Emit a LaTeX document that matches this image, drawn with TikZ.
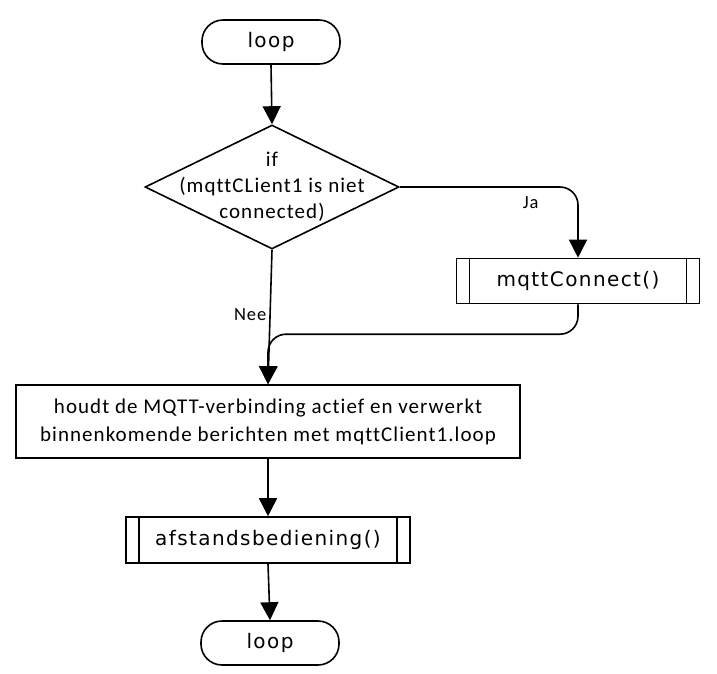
\documentclass[tikz,border=0pt]{standalone}
\usepackage{fontspec}
\setmainfont{Carlito}
\newfontfamily\dvfont{DejaVu Sans}[LetterSpace=7]
\newfontfamily\cbfont{Carlito}[LetterSpace=5,Ligatures={NoCommon}]
\usetikzlibrary{arrows.meta,shapes.geometric,calc}
\begin{document}
\begin{tikzpicture}[x=1pt,y=-1pt,
  ln/.style={line width=1.6pt},
  arr/.style={ln,-{Triangle[length=18pt,width=18pt]}},
  term/.style={draw,ln,rounded corners=21pt,minimum width=138pt,minimum height=44pt,inner sep=0pt,
    font=\dvfont\fontsize{20}{24}\selectfont},
  proc/.style={draw,ln,minimum height=45pt,inner sep=0pt,
    font=\dvfont\fontsize{20}{24}\selectfont,
    path picture={
      \draw[ln] ([xshift=13pt]path picture bounding box.north west) -- ([xshift=13pt]path picture bounding box.south west);
      \draw[ln] ([xshift=-13pt]path picture bounding box.north east) -- ([xshift=-13pt]path picture bounding box.south east);
    }},
  dia/.style={draw,ln,diamond,minimum width=254pt,minimum height=124pt,inner sep=0pt},
  txt/.style={align=center,inner sep=0pt,font=\cbfont\fontsize{21}{26}\selectfont},
  boxx/.style={draw,ln,minimum width=504pt,minimum height=73pt,align=center,inner sep=0pt,
    font=\cbfont\fontsize{21}{28}\selectfont},
  lbl/.style={inner sep=0pt,font=\cbfont\fontsize{18.5}{20}\selectfont}
]
\useasboundingbox (0,0) rectangle (717,673);

\node[term] (l1) at (271,42) {loop};
\node[dia] (d) at (272,187) {};
\node[txt] (dt) at (272,187) {if\\(mqttCLient1 is niet\\connected)};
\node[proc,minimum width=243pt] (mc) at (578,281) {mqttConnect()};
\node[boxx] (mb) at (268,421.5) {houdt de MQTT-verbinding actief en verwerkt\\binnenkomende berichten met mqttClient1.loop};
\node[proc,minimum width=284pt,minimum height=46pt] (af) at (268,540) {afstandsbediening()};
\node[term] (l2) at (270,643) {loop};
\coordinate (j) at ($(mb.north)+(0,-50)$);

\draw[arr] (l1.south) -- (d.north);
\draw[arr,rounded corners=18pt] (d.east) -| node[lbl,pos=0.367,below=9pt]{Ja} (mc.north);
\draw[arr] (d.south) -- node[lbl,pos=0.485,left=3pt]{Nee} (mb.north);
\draw[arr,rounded corners=18pt] (mc.south) |- (j) -- (mb.north);
\draw[arr] (mb.south) -- (af.north);
\draw[arr] (af.south) -- (l2.north);
\end{tikzpicture}
\end{document}
